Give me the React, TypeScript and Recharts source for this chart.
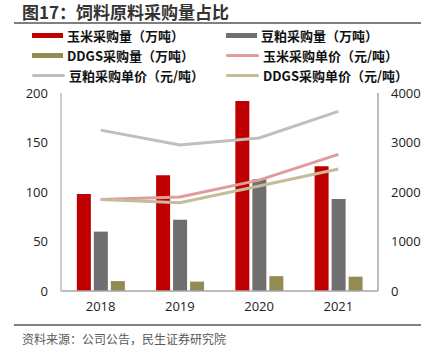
import { ComposedChart, Bar, Line, XAxis, YAxis } from "recharts";

const years = ["2018", "2019", "2020", "2021"];
const cornQty = [98, 117, 192, 126];
const soyQty = [60, 72, 113, 93];
const ddgsQty = [10, 9.5, 15, 14.5];
const cornPrice = [1850, 1900, 2240, 2760];
const soyPrice = [3250, 2950, 3090, 3630];
const ddgsPrice = [1850, 1785, 2120, 2465];

const leftTicks = [0, 50, 100, 150, 200];
const rightTicks = [0, 1000, 2000, 3000, 4000];

const data = years.map((y, i) => ({
  year: y,
  cornQty: cornQty[i],
  soyQty: soyQty[i],
  ddgsQty: ddgsQty[i],
  cornPrice: cornPrice[i],
  soyPrice: soyPrice[i],
  ddgsPrice: ddgsPrice[i],
}));

const font = "'Noto Sans CJK SC', 'Noto Sans', sans-serif";

const legendItems = [
  { label: "玉米采购量（万吨）", color: "#C00000", kind: "bar" },
  { label: "豆粕采购量（万吨）", color: "#6F6F6F", kind: "bar" },
  { label: "DDGS采购量（万吨）", color: "#948A54", kind: "bar" },
  { label: "玉米采购单价（元/吨）", color: "#E19B9B", kind: "line" },
  { label: "豆粕采购单价（元/吨）", color: "#BFBFBF", kind: "line" },
  { label: "DDGS采购单价（元/吨）", color: "#C4BD97", kind: "line" },
];

const tickStyle = { fill: "#222", fontSize: 13 };

export default function App() {
  return (
    <div
      style={{
        position: "absolute",
        left: 0,
        top: 0,
        width: 436,
        height: 358,
        background: "#fff",
        fontFamily: font,
      }}
    >
      <div
        style={{
          position: "absolute",
          left: 22,
          top: 1,
          fontSize: 17,
          fontWeight: 700,
          color: "#333",
          lineHeight: "22px",
        }}
      >
        图17：饲料原料采购量占比
      </div>
      <div style={{ position: "absolute", left: 14, top: 22, width: 407, height: 2, background: "#7F7F7F" }} />

      {legendItems.map((it, i) => {
        const col = i % 2;
        const row = Math.floor(i / 2);
        return (
          <div
            key={it.label}
            style={{
              position: "absolute",
              left: col === 0 ? 32 : 226,
              top: 25 + row * 20,
              height: 20,
              display: "flex",
              alignItems: "center",
              fontSize: 13,
              fontWeight: 700,
              color: "#111",
              whiteSpace: "nowrap",
            }}
          >
            <span
              style={{
                display: "inline-block",
                width: it.kind === "bar" ? 31 : 33,
                height: it.kind === "bar" ? 5 : 3,
                borderRadius: it.kind === "bar" ? 0 : 2,
                background: it.color,
                marginRight: 4,
              }}
            />
            {it.label}
          </div>
        );
      })}

      <div style={{ position: "absolute", left: 0, top: 0, fontFamily: "'Open Sans', sans-serif" }}>
        <ComposedChart
          width={436}
          height={358}
          data={data}
          margin={{ top: 93, right: 18, bottom: 37, left: 21 }}
          barCategoryGap="20%"
          barGap={3}
        >
          <XAxis
            dataKey="year"
            tickLine={false}
            axisLine={{ stroke: "#A6A6A6", strokeWidth: 1.5 }}
            tick={tickStyle}
            tickMargin={5}
            height={30}
          />
          <YAxis
            yAxisId="left"
            domain={[0, 200]}
            ticks={leftTicks}
            tickLine={false}
            axisLine={{ stroke: "#BFBFBF", strokeWidth: 1.5 }}
            tick={tickStyle}
            tickMargin={7}
            width={40}
            interval={0}
          />
          <YAxis
            yAxisId="right"
            orientation="right"
            domain={[0, 4000]}
            ticks={rightTicks}
            tickLine={false}
            axisLine={{ stroke: "#A6A6A6", strokeWidth: 1.5 }}
            tick={tickStyle}
            tickMargin={7}
            width={40}
            interval={0}
          />
          <Bar yAxisId="left" dataKey="cornQty" fill="#C00000" isAnimationActive={false} />
          <Bar yAxisId="left" dataKey="soyQty" fill="#6F6F6F" isAnimationActive={false} />
          <Bar yAxisId="left" dataKey="ddgsQty" fill="#948A54" isAnimationActive={false} />
          <Line
            yAxisId="right"
            dataKey="soyPrice"
            stroke="#BFBFBF"
            strokeWidth={3}
            dot={false}
            isAnimationActive={false}
          />
          <Line
            yAxisId="right"
            dataKey="cornPrice"
            stroke="#E19B9B"
            strokeWidth={3}
            dot={false}
            isAnimationActive={false}
          />
          <Line
            yAxisId="right"
            dataKey="ddgsPrice"
            stroke="#C4BD97"
            strokeWidth={3}
            dot={false}
            isAnimationActive={false}
          />
        </ComposedChart>
      </div>

      <div style={{ position: "absolute", left: 14, top: 324, width: 407, height: 2, background: "#7F7F7F" }} />
      <div
        style={{
          position: "absolute",
          left: 22,
          top: 330,
          fontSize: 12,
          color: "#595959",
          lineHeight: "18px",
        }}
      >
        资料来源：公司公告，民生证券研究院
      </div>
    </div>
  );
}
